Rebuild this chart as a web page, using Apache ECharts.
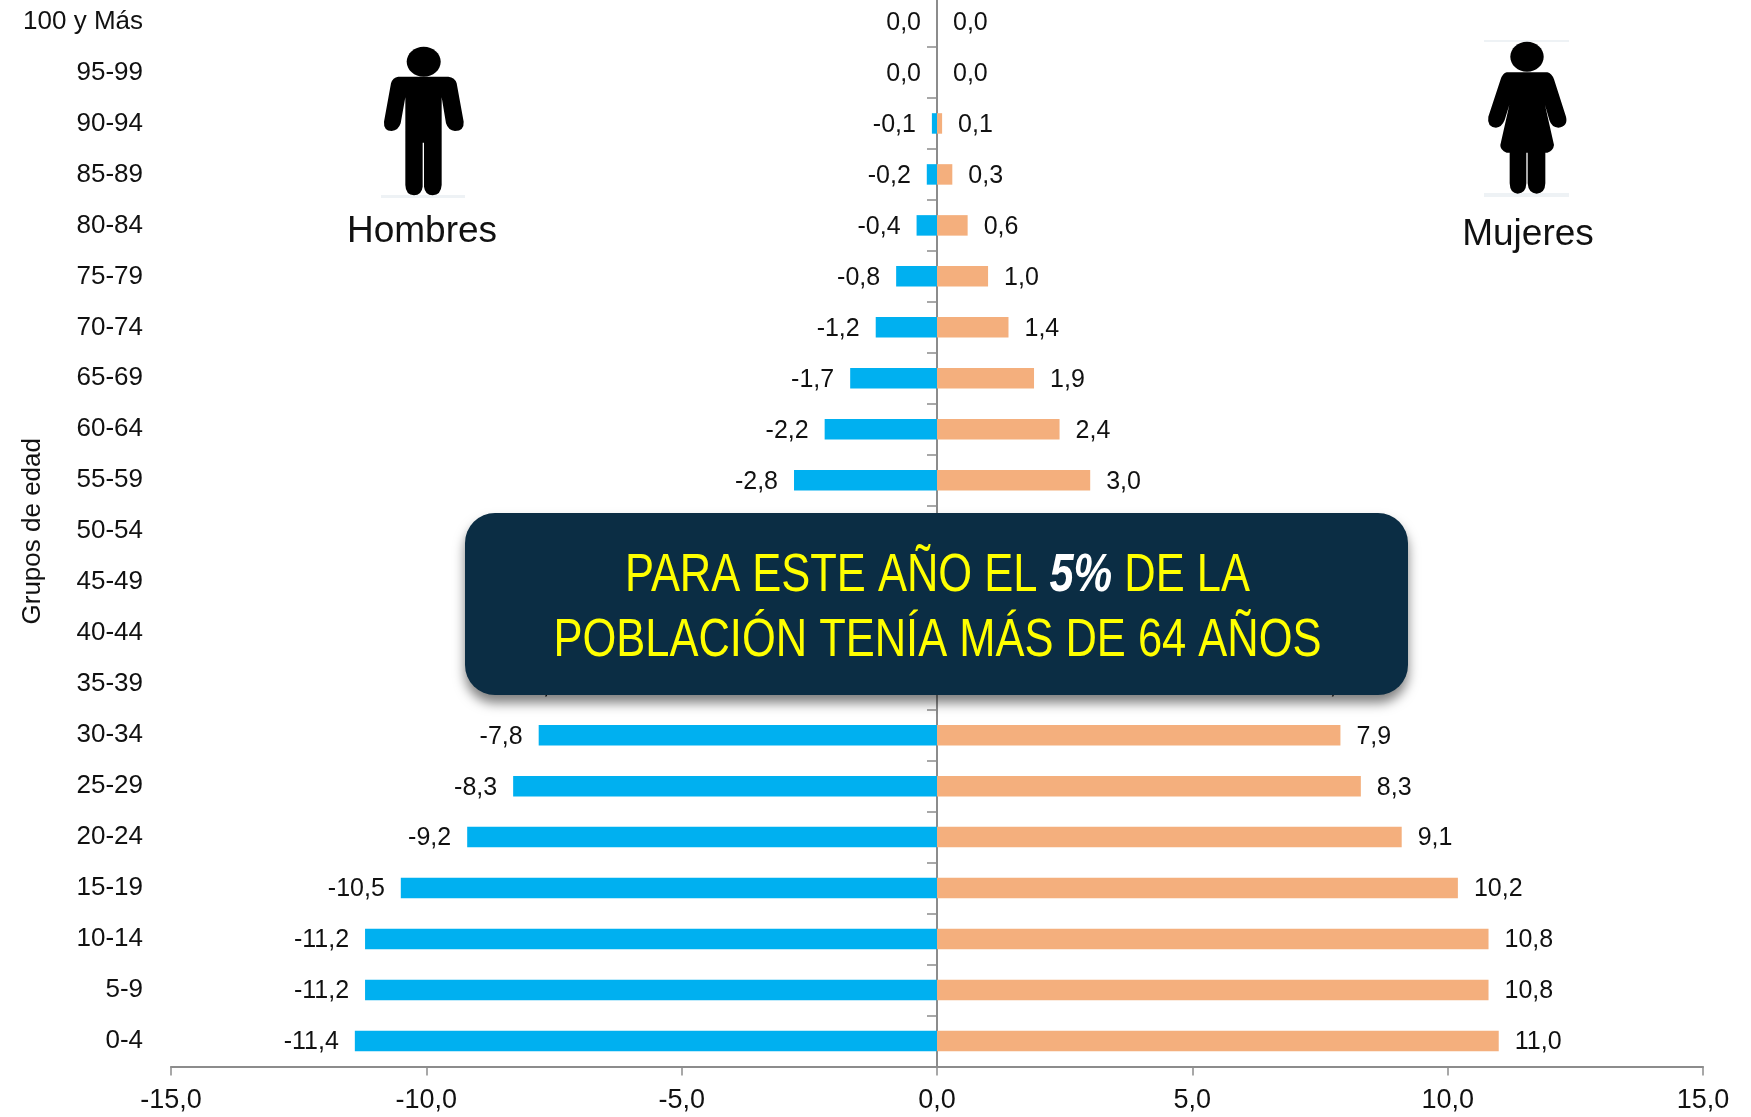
<!DOCTYPE html>
<html><head><meta charset="utf-8">
<style>html,body{margin:0;padding:0;background:#fff}#c{width:1751px;height:1117px}</style>
<script src="https://cdn.jsdelivr.net/npm/echarts@6/dist/echarts.min.js"></script>
</head><body><div id="c"></div>
<script>
const categories = ['0-4','5-9','10-14','15-19','20-24','25-29','30-34','35-39','40-44','45-49','50-54','55-59','60-64','65-69','70-74','75-79','80-84','85-89','90-94','95-99','100 y Más'];
const hombres = [-11.4,-11.2,-11.2,-10.5,-9.2,-8.3,-7.8,-7.0,-5.8,-4.6,-3.6,-2.8,-2.2,-1.7,-1.2,-0.8,-0.4,-0.2,-0.1,0,0];
const mujeres = [11.0,10.8,10.8,10.2,9.1,8.3,7.9,7.1,5.9,4.7,3.7,3.0,2.4,1.9,1.4,1.0,0.6,0.3,0.1,0,0];
const FONT = '"Liberation Sans",sans-serif';
const fmt = v => Number(v).toFixed(1).replace('.', ',');
const grey = '#8c8c8c';
const manPath = 'M175 230 L325 230 Q345 232 350 250 L371 365 Q373 392 345 393 Q325 392 318 370 L305 292 L305 555 Q303 585 278 586 Q255 585 252 560 L252 428 L248 428 L248 560 Q245 585 222 586 Q197 585 196 555 L196 292 L182 370 Q175 392 155 393 Q130 392 132 365 L153 250 Q158 232 175 230 Z';
const womanPath = 'M200 157 L322 157 Q335 160 342 178 L378 290 Q385 318 355 323 Q335 322 328 300 L315 255 L342 375 Q340 392 322 398 L316 398 L316 490 Q315 520 290 521 Q265 520 263 490 L263 398 L259 398 L259 490 Q258 520 233 521 Q210 520 209 490 L209 398 L200 398 Q180 390 181 375 L208 255 L194 300 Q185 322 168 323 Q140 320 145 290 L182 178 Q188 160 200 157 Z';
echarts.graphic.registerShape('manFigure', echarts.graphic.extendPath(manPath, {}));
echarts.graphic.registerShape('womanFigure', echarts.graphic.extendPath(womanPath, {}));
const chart = echarts.init(document.getElementById('c'), null, {renderer:'canvas'});
const labelCfg = pos => ({show:true, position:pos, distance:16, offset:[0,1.5], formatter:p => fmt(p.value), color:'#111', fontSize:25, fontFamily:FONT});
chart.setOption({
  animation:false,
  backgroundColor:'#fff',
  grid:{left:171, right:48, top:-4, bottom:50.5, containLabel:false, outerBoundsMode:'none'},
  xAxis:{type:'value', min:-15, max:15, interval:5, splitLine:{show:false},
    axisLine:{show:true, onZero:false, lineStyle:{color:grey, width:2}},
    axisTick:{show:true, length:9, lineStyle:{color:grey, width:1.5}},
    axisLabel:{color:'#111', fontSize:27, fontFamily:FONT, margin:21, formatter:v => fmt(v)}},
  yAxis:[
    {type:'category', data:categories, position:'left',
      axisLine:{show:false, onZero:false}, axisTick:{show:false},
      axisLabel:{color:'#111', fontSize:26, fontFamily:FONT, margin:28, padding:[6,0,0,0]},
      name:'Grupos de edad', nameLocation:'middle', nameRotate:90, nameGap:125, nameMoveOverlap:false,
      nameTextStyle:{color:'#111', fontSize:26, fontFamily:FONT}},
    {type:'category', data:categories, position:'left',
      axisLine:{show:true, onZero:true, lineStyle:{color:grey, width:2}},
      axisTick:{show:true, length:10, lineStyle:{color:grey, width:1.5}},
      axisLabel:{show:false}}
  ],
  series:[
    {name:'Hombres', type:'bar', yAxisIndex:0, data:hombres, barWidth:20.5, barGap:'-100%',
      itemStyle:{color:'#00B0F0'}, label:labelCfg('left')},
    {name:'Mujeres', type:'bar', yAxisIndex:0, data:mujeres, barWidth:20.5,
      itemStyle:{color:'#F4AF7D'}, label:labelCfg('right')}
  ],
  graphic:{elements:[
    {type:'rect', z:50, shape:{x:381,y:195,width:84,height:3}, style:{fill:'#eef2f5'}},
    {type:'ellipse', z:51, shape:{cx:423.7,cy:61.7,rx:17,ry:15}, style:{fill:'#000'}},
    {type:'manFigure', z:51, x:340, y:0, scaleX:1/3, scaleY:1/3, style:{fill:'#000'}},
    {type:'text', z:51, x:422, y:232, style:{text:'Hombres', fill:'#111', font:'37px "Liberation Sans",sans-serif', align:'center', verticalAlign:'middle'}},
    {type:'rect', z:50, shape:{x:1484,y:40,width:85,height:2}, style:{fill:'#eef2f5'}},
    {type:'rect', z:50, shape:{x:1484,y:193,width:85,height:4}, style:{fill:'#eef2f5'}},
    {type:'ellipse', z:51, shape:{cx:1527,cy:56.7,rx:16.7,ry:15}, style:{fill:'#000'}},
    {type:'womanFigure', z:51, x:1440, y:20, scaleX:1/3, scaleY:1/3, style:{fill:'#000'}},
    {type:'text', z:51, x:1528, y:235, style:{text:'Mujeres', fill:'#111', font:'37px "Liberation Sans",sans-serif', align:'center', verticalAlign:'middle'}},
    {type:'rect', z:60, shape:{x:465,y:513,width:943,height:182,r:30},
      style:{fill:'#0B2D44', shadowBlur:12, shadowOffsetY:8, shadowColor:'rgba(0,0,0,0.5)'}},
    {type:'text', z:61, x:937.5, y:608.5, scaleX:0.82, style:{
      text:'{y|PARA ESTE AÑO EL }{w|5%}{y| DE LA}\n{y|POBLACIÓN TENÍA MÁS DE 64 AÑOS}',
      align:'center', verticalAlign:'middle',
      rich:{
        y:{fill:'#FFFF00', fontSize:53, fontFamily:FONT, lineHeight:65},
        w:{fill:'#FFFFFF', fontSize:53, fontFamily:FONT, fontWeight:'bold', fontStyle:'italic', lineHeight:65}
      }}}
  ]}
});
</script></body></html>
